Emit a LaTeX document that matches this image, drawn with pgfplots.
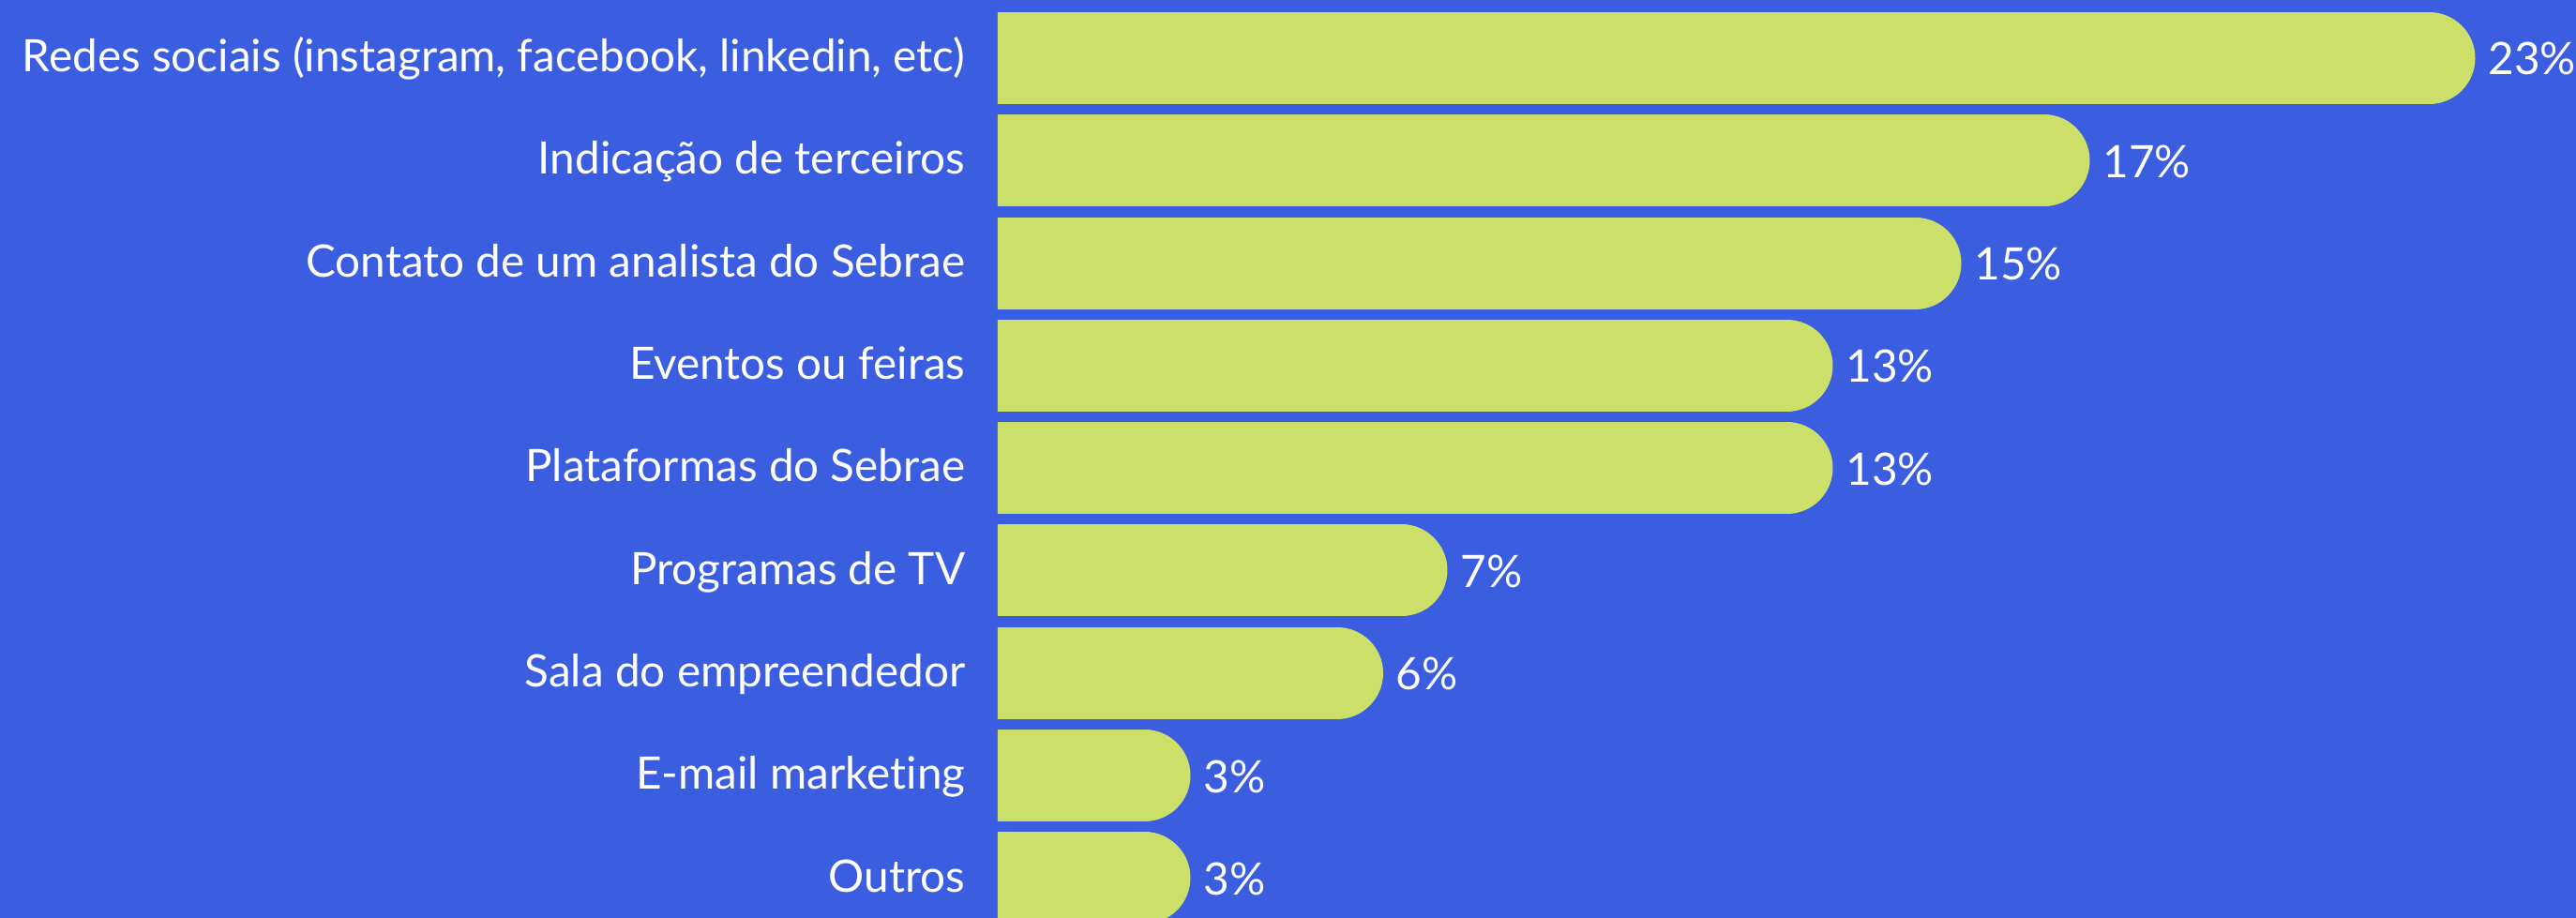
\documentclass[border=0pt]{standalone}
\usepackage{pgfplots}
\pgfplotsset{compat=1.18}
\usepackage{pgfplotstable}
\usepackage{fontspec}
\setmainfont{Lato}[Ligatures=NoCommon]
\definecolor{bg}{RGB}{59,93,224}
\definecolor{barc}{RGB}{204,223,104}
\pgfplotstableread{
y v
0 23
1 17
2 15
3 13
4 13
5 7
6 6
7 3
8 3
}\datatable
\newcommand{\lblfont}{\fontsize{14.3}{17}\selectfont}
\begin{document}
\begin{tikzpicture}
\fill[bg] (-319.2pt,0pt) rectangle (504.9pt,293.7pt);
\begin{axis}[
  at={(0pt,0pt)}, anchor=south west,
  width=504.9pt, height=293.7pt, scale only axis,
  xmin=0, xmax=24.569,
  ymin=-0.567, ymax=8.390, y dir=reverse,
  axis line style={draw=none},
  xtick=\empty,
  ytick={0,...,8},
  yticklabels={Redes sociais (instagram{,} facebook{,} linkedin{,} etc),Indicação de terceiros,Contato de um analista do Sebrae,Eventos ou feiras,Plataformas do Sebrae,Programas de TV,Sala do empreendedor,E-mail marketing,Outros},
  major tick length=0pt,
  yticklabel style={anchor=base east, inner sep=0pt, xshift=-10.2pt, yshift=-4.4pt, text=white, font=\lblfont},
  /pgf/number format/assume math mode=true,
  clip=true,
]
\addplot[xcomb, draw=barc, line width=29.4pt, line cap=round,
  point meta=explicit,
  nodes near coords={\pgfmathprintnumber{\pgfplotspointmeta}\%},
  every node near coord/.append style={anchor=base west, inner sep=0pt, xshift=4.2pt, yshift=-5.4pt, text=white, font=\lblfont}]
  table[x expr=\thisrow{v}-0.7153, y=y, meta=v] {\datatable};
\end{axis}
\pgfresetboundingbox
\path[use as bounding box] (-319.2pt,0pt) rectangle (504.9pt,293.7pt);
\end{tikzpicture}
\end{document}
